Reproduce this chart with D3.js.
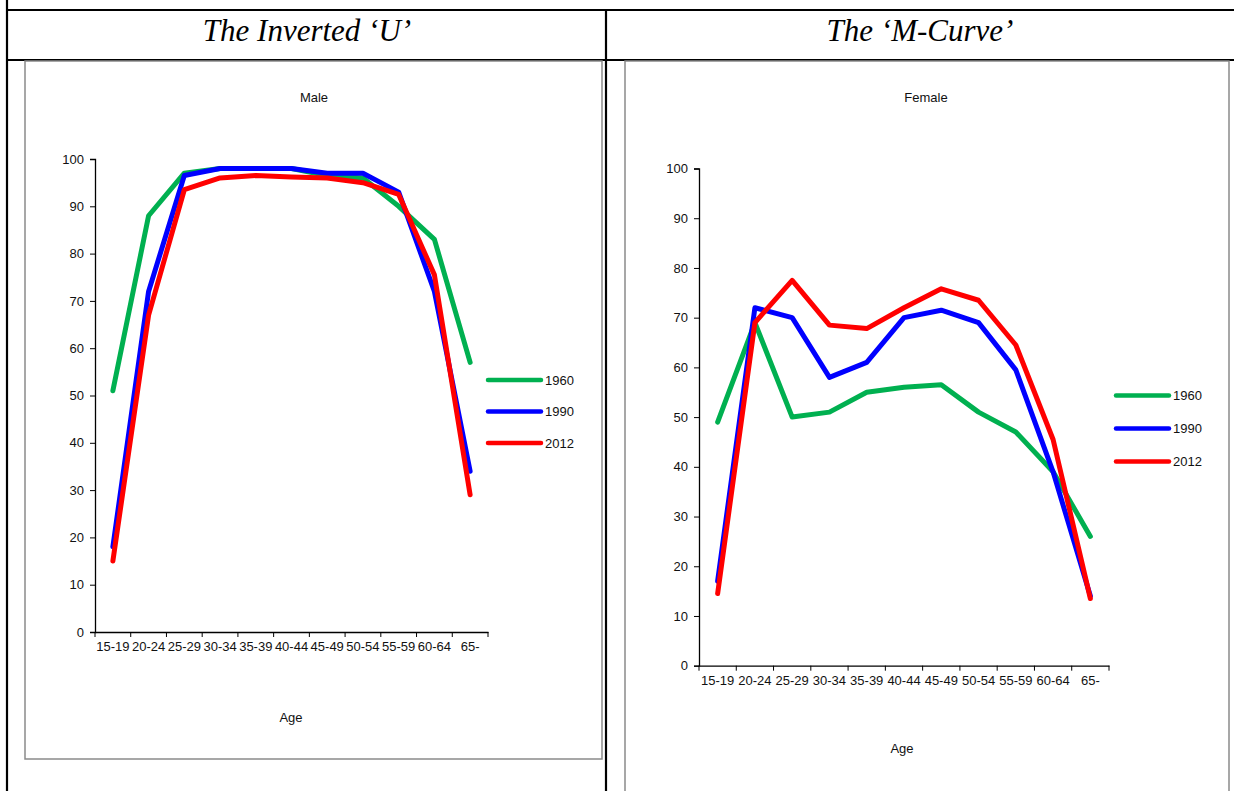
<!DOCTYPE html>
<html>
<head>
<meta charset="utf-8">
<script src="https://cdn.jsdelivr.net/npm/d3@7/dist/d3.min.js"></script>
<style>
  html, body { margin: 0; padding: 0; background: #fff; }
  svg { display: block; }
</style>
</head>
<body>
<svg id="page" width="1234" height="791"></svg>
<script>
// Age groups on the x axis
const ages = ["15-19", "20-24", "25-29", "30-34", "35-39", "40-44", "45-49", "50-54", "55-59", "60-64", "65-"];
const years = ["1960", "1990", "2012"];
const yTicks = [0, 10, 20, 30, 40, 50, 60, 70, 80, 90, 100];

// Male participation rates
const male1960 = [51, 88, 97, 98, 98, 98, 96.5, 96, 90, 83, 57];
const male1990 = [18, 72, 96.5, 98, 98, 98, 97, 97, 93, 72, 34];
const male2012 = [15, 67, 93.5, 96, 96.5, 96.2, 96, 95, 92.5, 75.5, 29];

// Female participation rates
const female1960 = [49, 69, 50, 51, 55, 56, 56.5, 51, 47, 39, 26];
const female1990 = [17, 72, 70, 58, 61, 70, 71.5, 69, 59.5, 39, 14];
const female2012 = [14.5, 69, 77.5, 68.5, 67.8, 72, 75.8, 73.5, 64.5, 45.5, 13.5];

const colors = { "1960": "#00b050", "1990": "#0000ff", "2012": "#ff0000" };
const sans = "'Liberation Sans', Arial, sans-serif";
const txtSize = "13px";
const txtColor = "#111";

const svg = d3.select("#page");

// Table lines of the surrounding document
const tbl = svg.append("g").attr("stroke", "#000").attr("stroke-width", 2.2);
tbl.append("line").attr("x1", 7).attr("x2", 1234).attr("y1", 10).attr("y2", 10);
tbl.append("line").attr("x1", 7).attr("x2", 1234).attr("y1", 60).attr("y2", 60);
tbl.append("line").attr("x1", 7).attr("x2", 7).attr("y1", 0).attr("y2", 791);
tbl.append("line").attr("x1", 606).attr("x2", 606).attr("y1", 10).attr("y2", 791);

svg.append("text")
  .attr("x", 307).attr("y", 41)
  .attr("text-anchor", "middle")
  .style("font-family", "'Liberation Serif', 'Times New Roman', serif")
  .style("font-style", "italic")
  .style("font-size", "31px")
  .text("The Inverted \u2018U\u2019");

svg.append("text")
  .attr("x", 920).attr("y", 41)
  .attr("text-anchor", "middle")
  .style("font-family", "'Liberation Serif', 'Times New Roman', serif")
  .style("font-style", "italic")
  .style("font-size", "31px")
  .text("The \u2018M-Curve\u2019");

function drawChart(cfg) {
  const { frame, plot, title, titleY, ageY, legend, series } = cfg;

  // chart frame
  svg.append("rect")
    .attr("x", frame.x).attr("y", frame.y)
    .attr("width", frame.w).attr("height", frame.h)
    .attr("fill", "#fff")
    .attr("stroke", "#8a8a8a")
    .attr("stroke-width", 1.5);

  const x = d3.scaleBand().domain(ages).range([plot.left, plot.right]).padding(0);
  const y = d3.scaleLinear().domain([0, 100]).range([plot.bottom, plot.top]);

  const g = svg.append("g");

  // Y axis
  g.append("g")
    .attr("transform", `translate(${plot.left},0)`)
    .call(d3.axisLeft(y).tickValues(yTicks).tickSize(5).tickPadding(6))
    .call(a => a.select(".domain").attr("stroke", "#000").attr("stroke-width", 1.3))
    .call(a => a.selectAll(".tick line").attr("stroke", "#000"))
    .call(a => a.selectAll(".tick text")
      .style("font-family", sans).style("font-size", txtSize).attr("fill", txtColor));

  // X axis: labels centred in bands, ticks on band edges
  const xa = g.append("g")
    .attr("transform", `translate(0,${plot.bottom})`)
    .call(d3.axisBottom(x).tickSize(0).tickPadding(10).tickSizeOuter(0))
    .call(a => a.select(".domain").attr("stroke", "#000").attr("stroke-width", 1.3))
    .call(a => a.selectAll(".tick text")
      .style("font-family", sans).style("font-size", txtSize).attr("fill", txtColor));

  const edges = ages.map(d => x(d)).concat([x.range()[1]]);
  xa.selectAll(".edge")
    .data(edges)
    .enter()
    .append("line")
    .attr("x1", d => d).attr("x2", d => d)
    .attr("y1", 0).attr("y2", 5)
    .attr("stroke", "#000");

  // Lines
  const line = d3.line()
    .x((d, i) => x(ages[i]) + x.bandwidth() / 2)
    .y(d => y(d));

  years.forEach((yr, k) => {
    g.append("path")
      .datum(series[k])
      .attr("fill", "none")
      .attr("stroke", colors[yr])
      .attr("stroke-width", 5)
      .attr("stroke-linejoin", "round")
      .attr("stroke-linecap", "round")
      .attr("d", line);
  });

  // Legend
  years.forEach((yr, k) => {
    const ly = legend.y + k * legend.step;
    g.append("line")
      .attr("x1", legend.x).attr("x2", legend.x + 53)
      .attr("y1", ly).attr("y2", ly)
      .attr("stroke", colors[yr])
      .attr("stroke-width", 4.5)
      .attr("stroke-linecap", "round");
    g.append("text")
      .attr("x", legend.x + 57).attr("y", ly + 4.5)
      .style("font-family", sans)
      .style("font-size", txtSize)
      .attr("fill", txtColor)
      .text(yr);
  });

  // Titles
  g.append("text")
    .attr("x", title.x).attr("y", titleY)
    .attr("text-anchor", "middle")
    .style("font-family", sans)
    .style("font-size", txtSize)
    .attr("fill", txtColor)
    .text(title.text);

  g.append("text")
    .attr("x", title.ageX).attr("y", ageY)
    .attr("text-anchor", "middle")
    .style("font-family", sans)
    .style("font-size", txtSize)
    .attr("fill", txtColor)
    .text("Age");
}

drawChart({
  frame: { x: 25, y: 61, w: 577, h: 698 },
  plot: { left: 95, right: 488, top: 159, bottom: 632 },
  title: { text: "Male", x: 314, ageX: 291 },
  titleY: 102,
  ageY: 722,
  legend: { x: 488, y: 380, step: 31.5 },
  series: [male1960, male1990, male2012]
});

drawChart({
  frame: { x: 625, y: 61, w: 604, h: 760 },
  plot: { left: 699, right: 1109, top: 168.5, bottom: 665.7 },
  title: { text: "Female", x: 926, ageX: 902 },
  titleY: 102,
  ageY: 753,
  legend: { x: 1116, y: 395.5, step: 33 },
  series: [female1960, female1990, female2012]
});
</script>
</body>
</html>
